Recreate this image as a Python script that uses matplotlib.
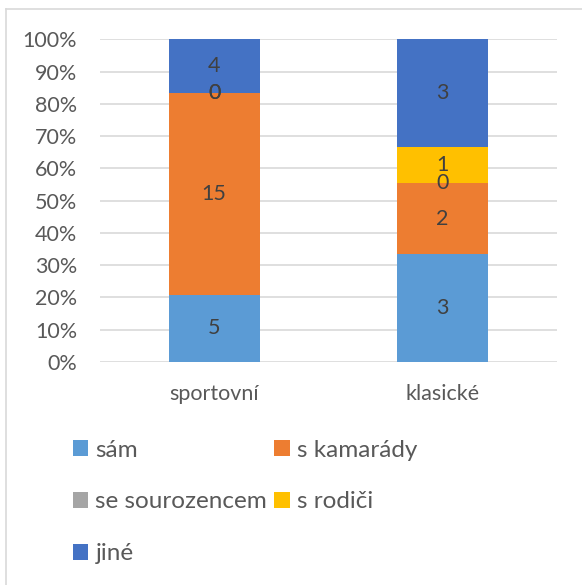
import matplotlib.pyplot as plt
from matplotlib.lines import Line2D
from matplotlib.patches import Patch

plt.rcParams['font.family'] = ['Lato', 'DejaVu Sans']

# data
categories = ['sportovní', 'klasické']
series = ['sám', 's kamarády', 'se sourozencem', 's rodiči', 'jiné']
sam = [5, 3]
kamarady = [15, 2]
sourozenec = [0, 0]
rodice = [0, 1]
jine = [4, 3]
values = [sam, kamarady, sourozenec, rodice, jine]
colors = ['#5B9BD5', '#ED7D31', '#A5A5A5', '#FFC000', '#4472C4']

totals = [sum(v[i] for v in values) for i in range(len(categories))]

fig = plt.figure(figsize=(5.82, 5.85), dpi=100)
ax = fig.add_axes([0.1718, 0.3812, 0.785, 0.5513])

x = list(range(len(categories)))
bottoms = [0.0] * len(categories)
for name, vals, c in zip(series, values, colors):
    pct = [v / t for v, t in zip(vals, totals)]
    ax.bar(x, pct, 0.4, bottom=bottoms, color=c, label=name, zorder=3)
    for i in x:
        ax.text(i, bottoms[i] + pct[i] / 2, str(vals[i]), ha='center', va='center',
                fontsize=15.5, color='#404040', zorder=4)
    bottoms = [b + p for b, p in zip(bottoms, pct)]

ax.set_xlim(-0.5, 1.5)
ax.set_ylim(0, 1)
ax.set_yticks([i / 10 for i in range(11)])
ax.set_yticklabels([f'{i * 10}%' for i in range(11)])
ax.set_xticks(x)
ax.set_xticklabels(categories)
ax.tick_params(axis='both', length=0, labelsize=15.5, colors='#595959')
ax.tick_params(axis='y', pad=16.5)
ax.tick_params(axis='x', pad=16)
ax.grid(axis='y', color='#D9D9D9', linewidth=1.2, zorder=0)
for s in ax.spines.values():
    s.set_visible(False)

# legend, row-wise like Excel
h = [Patch(facecolor=c) for c in colors]
order = [0, 2, 4, 1, 3]
leg = fig.legend([h[i] for i in order], [series[i] for i in order], ncol=2,
                 loc='upper left', bbox_to_anchor=(0.088, 0.286), frameon=False,
                 fontsize=17.5, handlelength=0.62, handleheight=0.62,
                 handletextpad=0.3, columnspacing=0.3, labelspacing=1.27)
for t in leg.get_texts():
    t.set_color('#595959')

# chart border (top and left visible)
fig.add_artist(Line2D([6 / 582, 6 / 582], [0, 1 - 9 / 585], transform=fig.transFigure,
                      color='#D9D9D9', linewidth=1.2))
fig.add_artist(Line2D([6 / 582, 1], [1 - 9 / 585, 1 - 9 / 585], transform=fig.transFigure,
                      color='#D9D9D9', linewidth=1.2))

fig.savefig('out.png', dpi=100)
